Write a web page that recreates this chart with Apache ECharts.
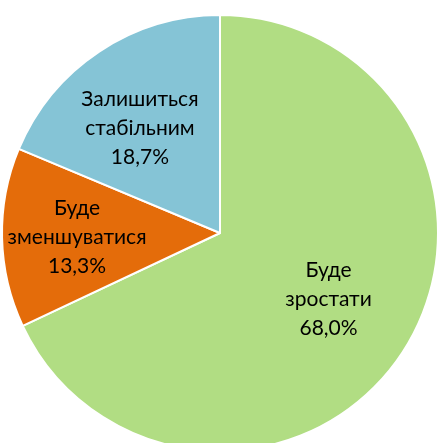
<!DOCTYPE html>
<html><head><meta charset="utf-8">
<script src="https://cdn.jsdelivr.net/npm/echarts@6/dist/echarts.min.js"></script>
<style>html,body{margin:0;padding:0;background:#fff}#c{width:437px;height:443px}</style>
</head><body><div id="c"></div>
<script>
const categories = ['Буде\nзростати', 'Буде\nзменшуватися', 'Залишиться\nстабільним'];
const values = [68.0, 13.3, 18.7];
const colors = ['#B1DD83', '#E46C0A', '#85C4D6'];
const labelShift = [[14, 6], [-31, 2], [-18, -12]];

const chart = echarts.init(document.getElementById('c'), null, {renderer: 'canvas'});
chart.setOption({
  animation: false,
  series: [{
    type: 'pie',
    center: [220, 233],
    radius: 218,
    startAngle: 90,
    clockwise: true,
    avoidLabelOverlap: false,
    itemStyle: {borderColor: '#fff', borderWidth: 2},
    label: {
      position: 'inside',
      color: '#000',
      fontFamily: 'Lato',
      fontSize: 21,
      lineHeight: 29,
      formatter: p => p.name + '\n' + p.value.toFixed(1).replace('.', ',') + '%'
    },
    labelLine: {show: false},
    labelLayout: p => ({dx: labelShift[p.dataIndex][0], dy: labelShift[p.dataIndex][1]}),
    emphasis: {disabled: true},
    data: categories.map((c, i) => ({name: c, value: values[i], itemStyle: {color: colors[i]}}))
  }]
});
</script></body></html>
